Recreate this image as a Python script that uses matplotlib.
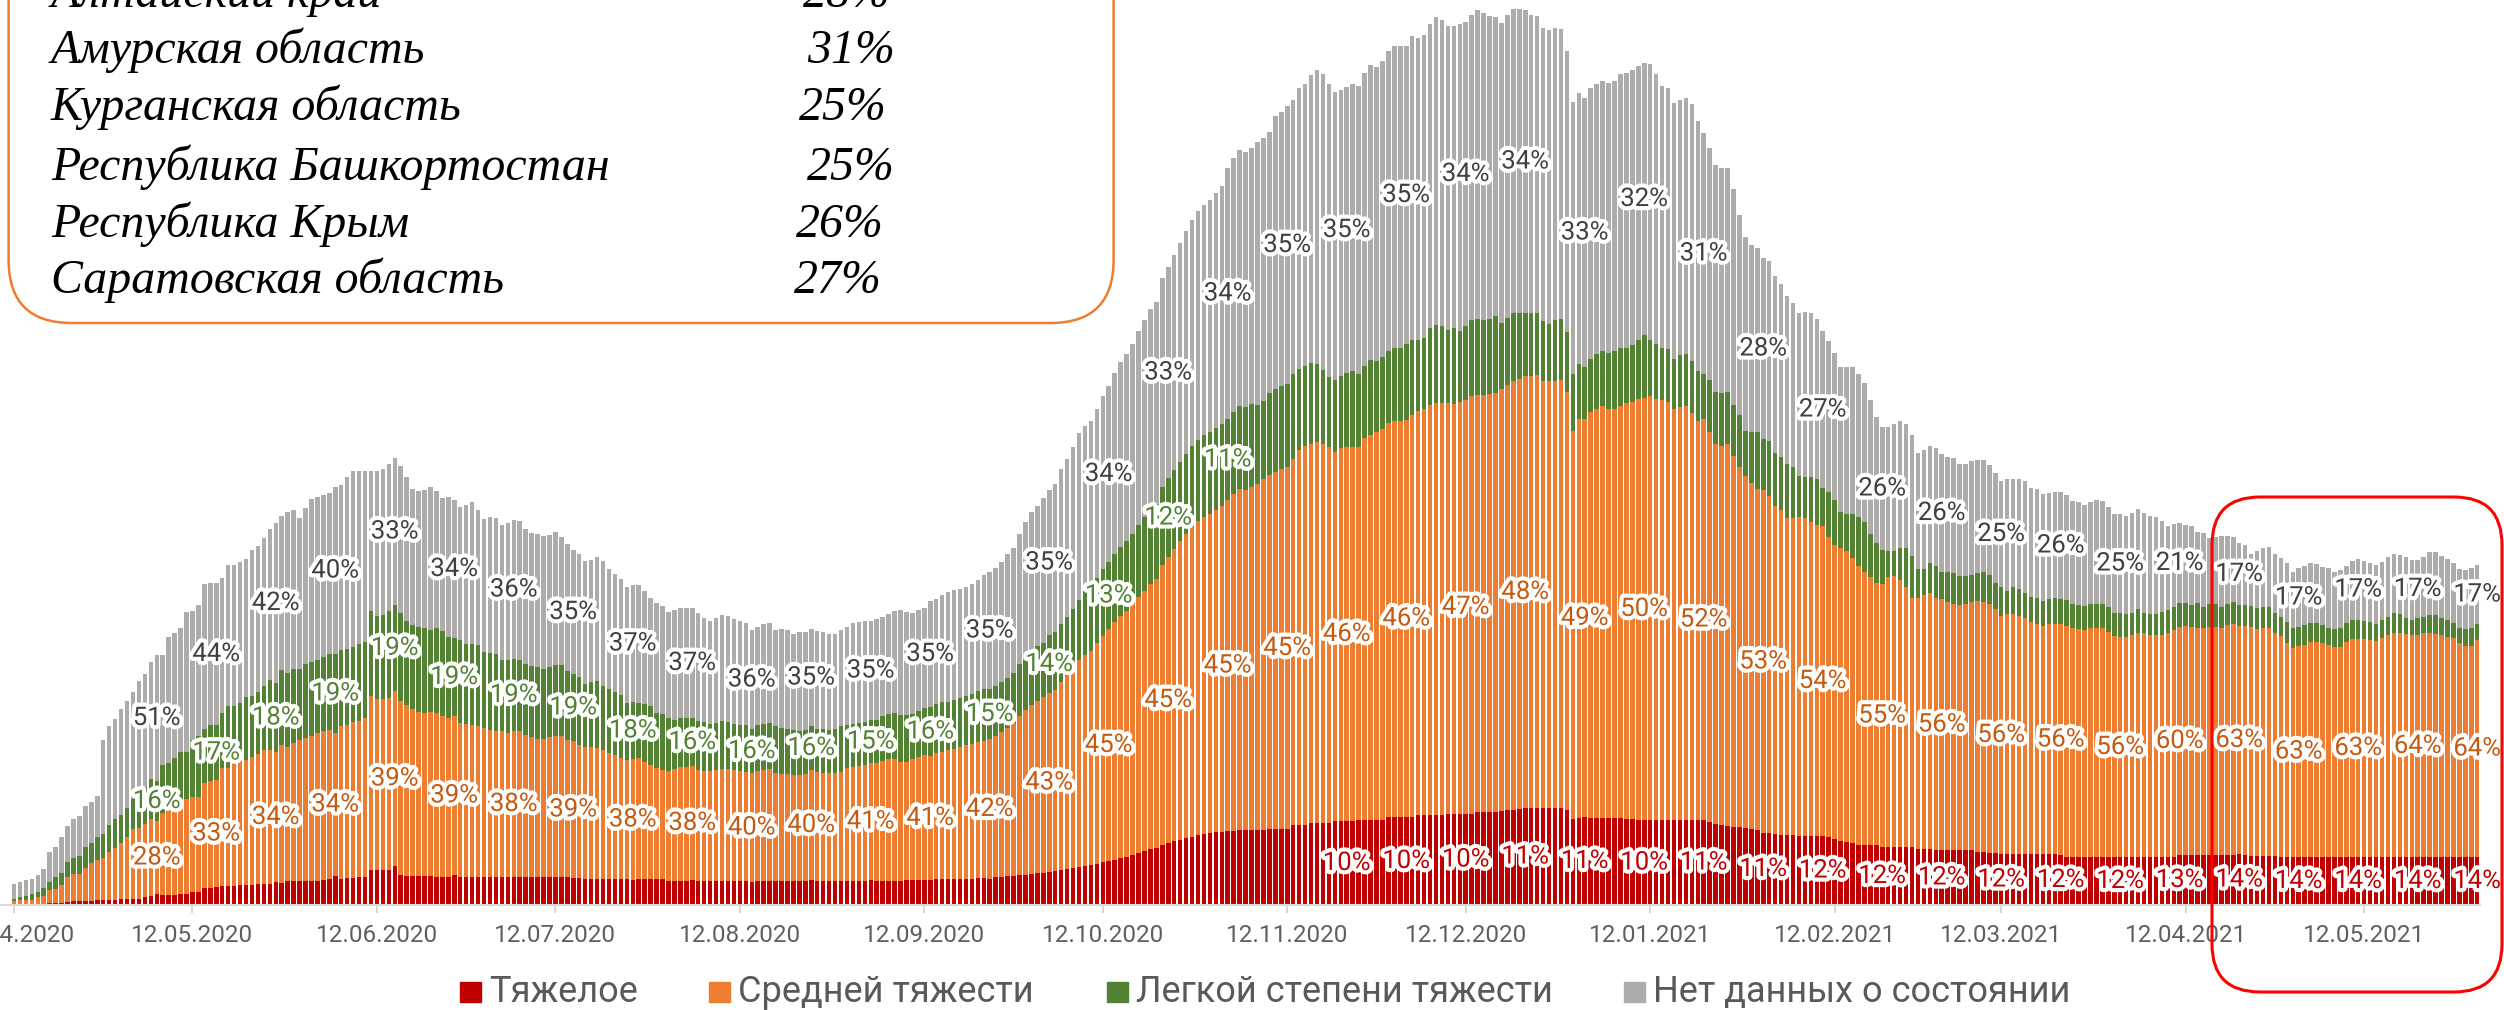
import numpy as np
import pandas as pd
import matplotlib
matplotlib.use("Agg")
import matplotlib.pyplot as plt
import matplotlib.patheffects as pe
from matplotlib.patches import FancyBboxPatch, Rectangle

plt.rcParams['font.family'] = ['Roboto', 'DejaVu Sans']

start = pd.Timestamp("2020-04-12")

# stacked levels per day: top of every layer
total = [21, 23, 25, 26, 30, 36, 53, 58, 68, 79,
         86, 89, 99, 103, 109, 165, 179, 186, 196, 204,
         213, 224, 231, 243, 250, 250, 268, 272, 277, 293,
         294, 300, 321, 322, 322, 327, 340, 340, 343, 346,
         355, 359, 367, 376, 382, 389, 393, 395, 387, 397,
         406, 408, 410, 412, 418, 420, 428, 434, 434, 434,
         434, 434, 436, 441, 447, 439, 428, 416, 414, 415,
         418, 414, 407, 408, 405, 398, 400, 403, 395, 386,
         388, 387, 380, 382, 385, 384, 376, 372, 371, 369,
         370, 373, 368, 361, 355, 351, 344, 345, 348, 344,
         336, 331, 326, 318, 320, 320, 314, 307, 302, 299,
         293, 295, 297, 297, 297, 292, 287, 284, 287, 290,
         289, 286, 284, 282, 275, 278, 281, 282, 275, 276,
         275, 271, 273, 273, 276, 274, 273, 271, 271, 275,
         278, 282, 283, 284, 284, 286, 288, 291, 294, 295,
         293, 292, 295, 297, 304, 306, 310, 313, 315, 316,
         318, 321, 325, 330, 333, 337, 343, 351, 357, 371,
         383, 393, 399, 407, 415, 421, 436, 446, 458, 472,
         479, 484, 496, 509, 519, 532, 543, 551, 561, 574,
         585, 596, 603, 627, 638, 650, 662, 674, 685, 694,
         700, 705, 712, 719, 737, 747, 755, 753, 757, 763,
         767, 773, 789, 793, 799, 805, 817, 821, 830, 835,
         831, 821, 813, 815, 818, 821, 819, 832, 840, 838,
         844, 854, 859, 859, 859, 869, 867, 870, 881, 888,
         885, 879, 879, 881, 883, 890, 895, 892, 889, 888,
         882, 890, 896, 896, 895, 890, 889, 877, 875, 877,
         876, 854, 803, 812, 807, 817, 821, 824, 822, 824,
         831, 832, 835, 839, 842, 841, 831, 819, 817, 802,
         805, 807, 801, 784, 772, 757, 740, 737, 737, 716,
         690, 668, 660, 657, 647, 644, 629, 621, 609, 602,
         592, 593, 592, 586, 574, 564, 552, 538, 538, 538,
         531, 522, 505, 488, 478, 478, 481, 484, 481, 470,
         452, 455, 459, 457, 451, 448, 447, 441, 441, 444,
         445, 445, 440, 432, 424, 426, 426, 426, 424, 417,
         416, 411, 412, 413, 413, 410, 404, 403, 400, 403,
         405, 404, 398, 391, 391, 389, 392, 396, 392, 389,
         388, 384, 379, 381, 382, 380, 379, 373, 372, 367,
         368, 369, 369, 368, 362, 360, 351, 354, 357, 358,
         351, 347, 342, 333, 337, 339, 342, 341, 338, 337,
         333, 335, 339, 344, 346, 344, 342, 340, 343, 348,
         351, 350, 348, 345, 345, 348, 353, 353, 349, 346,
         342, 336, 335, 337, 340]

upto_mild = [6, 8, 9, 11, 13, 17, 23, 28, 32, 43,
             47, 49, 58, 62, 68, 71, 80, 86, 90, 97,
             106, 109, 118, 126, 124, 140, 142, 147, 153, 153,
             165, 169, 176, 180, 180, 192, 199, 199, 202, 208,
             209, 213, 219, 225, 222, 235, 232, 236, 236, 241,
             243, 245, 248, 251, 251, 255, 256, 258, 261, 263,
             294, 289, 290, 294, 300, 292, 284, 280, 278, 277,
             275, 277, 274, 268, 267, 265, 261, 261, 260, 253,
             252, 251, 245, 245, 246, 245, 241, 239, 238, 236,
             238, 240, 240, 234, 231, 228, 221, 223, 224, 219,
             216, 213, 210, 202, 203, 202, 201, 199, 192, 191,
             187, 185, 187, 187, 187, 184, 183, 181, 182, 184,
             183, 181, 180, 180, 176, 180, 181, 182, 179, 177,
             176, 175, 174, 175, 179, 176, 176, 175, 176, 179,
             180, 181, 182, 183, 185, 185, 189, 191, 192, 190,
             190, 191, 194, 197, 198, 201, 203, 203, 205, 207,
             209, 211, 214, 216, 216, 219, 223, 227, 232, 241,
             245, 252, 259, 262, 270, 273, 281, 288, 296, 305,
             314, 318, 327, 336, 343, 351, 358, 364, 371, 380,
             388, 396, 401, 418, 427, 435, 443, 451, 459, 465,
             470, 473, 477, 481, 486, 493, 499, 498, 501, 500,
             504, 512, 516, 519, 521, 531, 536, 539, 542, 541,
             535, 528, 525, 529, 532, 534, 531, 539, 545, 544,
             548, 554, 557, 557, 561, 565, 565, 567, 577, 580,
             579, 575, 577, 574, 579, 585, 586, 585, 586, 589,
             582, 587, 592, 592, 592, 592, 592, 584, 581, 585,
             586, 573, 531, 541, 538, 546, 551, 554, 552, 554,
             557, 557, 560, 565, 570, 565, 561, 557, 556, 546,
             550, 551, 544, 534, 531, 525, 513, 512, 513, 500,
             490, 474, 473, 473, 466, 464, 452, 448, 441, 438,
             429, 428, 428, 426, 417, 413, 405, 393, 391, 391,
             388, 383, 371, 362, 355, 354, 354, 357, 357, 349,
             336, 336, 342, 339, 333, 333, 332, 329, 329, 330,
             332, 333, 330, 322, 318, 314, 318, 316, 312, 308,
             307, 304, 306, 307, 306, 305, 301, 300, 299, 301,
             301, 301, 298, 292, 292, 291, 292, 296, 292, 291,
             291, 293, 295, 298, 302, 302, 300, 302, 298, 301,
             301, 298, 301, 303, 300, 300, 299, 297, 298, 298,
             292, 288, 283, 277, 278, 280, 282, 282, 280, 277,
             276, 277, 282, 285, 285, 284, 283, 281, 285, 288,
             292, 291, 287, 285, 287, 288, 290, 290, 287, 285,
             282, 277, 276, 277, 281]

upto_moderate = [4, 5, 5, 5, 8, 9, 15, 16, 20, 28,
                 31, 31, 37, 42, 45, 47, 53, 57, 62, 68,
                 76, 77, 81, 86, 84, 92, 96, 100, 103, 106,
                 108, 108, 122, 124, 125, 137, 137, 143, 143, 145,
                 148, 151, 155, 155, 153, 160, 158, 162, 165, 167,
                 169, 172, 174, 175, 172, 179, 180, 183, 184, 187,
                 209, 206, 206, 207, 214, 204, 200, 196, 193, 192,
                 193, 192, 189, 187, 189, 182, 181, 180, 179, 177,
                 175, 174, 174, 172, 174, 174, 170, 168, 166, 166,
                 168, 169, 169, 165, 164, 160, 158, 158, 157, 155,
                 152, 150, 147, 145, 146, 147, 143, 140, 137, 135,
                 134, 136, 138, 138, 139, 135, 134, 134, 135, 136,
                 136, 135, 134, 133, 132, 134, 135, 136, 132, 131,
                 131, 130, 130, 131, 135, 133, 132, 132, 132, 133,
                 137, 138, 139, 140, 142, 142, 144, 146, 146, 143,
                 143, 146, 148, 150, 149, 152, 153, 155, 156, 158,
                 160, 161, 163, 164, 166, 169, 173, 177, 181, 189,
                 195, 200, 204, 208, 212, 215, 223, 229, 236, 245,
                 250, 254, 262, 269, 276, 283, 289, 294, 301, 308,
                 314, 321, 326, 340, 348, 356, 364, 371, 378, 384,
                 388, 391, 395, 399, 405, 411, 416, 415, 418, 421,
                 426, 430, 433, 436, 438, 446, 455, 459, 461, 463,
                 461, 458, 453, 457, 458, 458, 458, 467, 470, 473,
                 476, 482, 484, 484, 485, 490, 494, 496, 500, 502,
                 502, 502, 501, 503, 505, 509, 510, 510, 511, 512,
                 516, 520, 524, 526, 529, 529, 530, 524, 524, 524,
                 525, 513, 474, 486, 486, 493, 496, 499, 496, 496,
                 499, 502, 503, 506, 507, 509, 506, 505, 503, 496,
                 498, 499, 492, 484, 486, 473, 461, 459, 461, 449,
                 438, 429, 422, 416, 415, 409, 399, 395, 387, 387,
                 388, 387, 383, 380, 379, 368, 360, 357, 354, 347,
                 339, 333, 328, 322, 321, 328, 329, 325, 318, 307,
                 307, 310, 312, 307, 306, 303, 301, 300, 301, 303,
                 304, 303, 301, 296, 289, 291, 291, 289, 287, 283,
                 281, 279, 281, 281, 281, 279, 277, 276, 275, 277,
                 277, 277, 273, 269, 268, 268, 270, 272, 272, 270,
                 270, 270, 272, 275, 278, 279, 278, 277, 277, 278,
                 278, 277, 280, 281, 279, 279, 278, 276, 277, 277,
                 272, 269, 262, 257, 259, 260, 263, 263, 262, 260,
                 258, 258, 263, 266, 266, 266, 265, 264, 267, 270,
                 272, 272, 271, 270, 270, 272, 272, 271, 270, 268,
                 267, 262, 259, 259, 265]

severe = [1, 1, 1, 1, 1, 1, 2, 2, 2, 3,
          4, 4, 4, 4, 5, 5, 5, 5, 6, 6,
          6, 6, 8, 9, 11, 10, 10, 10, 11, 11,
          13, 13, 17, 17, 18, 19, 19, 19, 20, 20,
          20, 21, 21, 21, 23, 22, 24, 24, 24, 24,
          24, 24, 25, 26, 29, 26, 27, 27, 28, 28,
          35, 35, 35, 35, 39, 30, 29, 29, 29, 29,
          29, 28, 28, 28, 30, 28, 28, 28, 28, 28,
          28, 28, 28, 28, 28, 28, 28, 28, 28, 28,
          28, 28, 28, 28, 27, 27, 26, 26, 26, 26,
          26, 26, 26, 26, 25, 26, 26, 26, 26, 26,
          24, 24, 24, 24, 25, 24, 24, 24, 24, 24,
          24, 24, 24, 24, 23, 24, 24, 24, 24, 24,
          24, 24, 24, 24, 25, 24, 24, 24, 24, 24,
          24, 24, 24, 24, 25, 24, 24, 24, 24, 24,
          25, 25, 25, 25, 25, 26, 26, 26, 26, 26,
          26, 26, 27, 27, 26, 28, 28, 29, 29, 30,
          30, 31, 32, 32, 33, 34, 35, 36, 37, 38,
          39, 40, 41, 43, 44, 45, 47, 48, 50, 52,
          54, 56, 57, 60, 62, 64, 65, 67, 68, 70,
          71, 72, 73, 73, 74, 74, 75, 75, 75, 75,
          75, 76, 76, 76, 76, 80, 80, 80, 82, 82,
          82, 82, 84, 84, 84, 84, 85, 85, 85, 85,
          85, 88, 88, 88, 88, 88, 90, 90, 90, 90,
          90, 91, 91, 91, 91, 91, 93, 93, 93, 93,
          94, 95, 95, 96, 97, 97, 97, 97, 97, 97,
          97, 95, 86, 87, 88, 87, 87, 87, 87, 87,
          87, 86, 86, 85, 85, 85, 85, 85, 85, 85,
          85, 85, 85, 85, 85, 83, 81, 80, 79, 78,
          78, 77, 76, 75, 72, 72, 71, 70, 70, 70,
          69, 69, 69, 69, 69, 68, 66, 64, 63, 62,
          60, 60, 60, 60, 58, 58, 58, 58, 58, 58,
          56, 56, 56, 55, 55, 55, 55, 55, 55, 55,
          53, 53, 52, 52, 51, 51, 51, 51, 51, 51,
          51, 51, 51, 51, 50, 48, 48, 48, 48, 48,
          48, 48, 48, 48, 48, 48, 48, 48, 48, 48,
          48, 48, 48, 48, 50, 50, 50, 50, 50, 50,
          50, 50, 50, 50, 51, 50, 49, 49, 49, 49,
          49, 48, 48, 48, 48, 48, 48, 48, 48, 48,
          48, 48, 48, 48, 48, 48, 48, 48, 48, 48,
          48, 48, 48, 48, 48, 48, 48, 48, 48, 48,
          48, 48, 48, 48, 48]

# percentage labels, one every 10 days starting at day 4 (None = not shown)
label_days = list(range(4, 415, 10))
gray_labels = [None, None, 51, 44, 42, 40, 33, 34, 36, 35, 37, 37, 36, 35, 35, 35, 35, 35, 34, 33, 34,
               35, 35, 35, 34, 34, 33, 32, 31, 28, 27, 26, 26, 25, 26, 25, 21, 17, 17, 17, 17, 17]
green_labels = [None, None, 16, 17, 18, 19, 19, 19, 19, 19, 18, 16, 16, 16, 15, 16, 15, 14, 13, 12, 11] + [None] * 21
orange_labels = [None, None, 28, 33, 34, 34, 39, 39, 38, 39, 38, 38, 40, 40, 41, 41, 42, 43, 45, 45, 45,
                 45, 46, 46, 47, 48, 49, 50, 52, 53, 54, 55, 56, 56, 56, 56, 60, 63, 63, 63, 64, 64]
red_labels = [None] * 22 + [10, 10, 10, 11, 11, 10, 11, 11, 12, 12, 12, 12, 12, 12, 13, 14, 14, 14, 14, 14]

tick_labels = ["12.04.2020", "12.05.2020", "12.06.2020", "12.07.2020", "12.08.2020", "12.09.2020",
               "12.10.2020", "12.11.2020", "12.12.2020", "12.01.2021", "12.02.2021", "12.03.2021",
               "12.04.2021", "12.05.2021"]

series_names = ["Тяжелое", "Средней тяжести", "Легкой степени тяжести", "Нет данных о состоянии"]
colors = ["#C00000", "#ED7D31", "#548235", "#AEABAB"]
label_colors = ["#C00000", "#C55A11", "#548235", "#404040"]

regions = ["Алтайский край", "Амурская область", "Курганская область",
           "Республика Башкортостан", "Республика Крым", "Саратовская область"]
region_share = ["28%", "31%", "25%", "25%", "26%", "27%"]

W, H = 2504, 1010
fig = plt.figure(figsize=(W / 100, H / 100), dpi=100)
ax = fig.add_axes([0, 105 / H, 1, 905 / H])

tot = np.array(total)
g = np.array(upto_mild)
o = np.array(upto_moderate)
r = np.array(severe)
segs = [r, o - r, g - o, tot - g]
bottoms = [np.zeros_like(r), r, o, g]
x = np.arange(len(tot))

for seg, bot, c in zip(segs, bottoms, colors):
    ax.bar(x, seg, bottom=bot, width=0.76, color=c, linewidth=0)

halo = [pe.withStroke(linewidth=6, foreground="white")]
for lbls, seg, bot, lc in zip([red_labels, orange_labels, green_labels, gray_labels], segs, bottoms, label_colors):
    for d, v in zip(label_days, lbls):
        if v is None:
            continue
        ax.text(d, bot[d] + seg[d] / 2, f"{v}%", ha="center", va="center",
                fontsize=18.5, color=lc, path_effects=halo, zorder=5)

ax.set_xlim(-2.35, 418.5)
ax.set_ylim(0, 905)
ax.set_yticks([])
for s in ["top", "left", "right"]:
    ax.spines[s].set_visible(False)
ax.spines["bottom"].set_color("#d9d9d9")
ax.spines["bottom"].set_linewidth(1.5)
ax.spines["bottom"].set_bounds(-2.35, 414.5)

tick_pos = (pd.to_datetime(tick_labels, format="%d.%m.%Y") - start).days
ax.set_xticks(tick_pos, tick_labels)
ax.tick_params(axis="x", length=6, width=1.2, color="#d0d0d0", pad=8,
               labelsize=17.5, labelcolor="#5f5f5f")
ax.set_facecolor("white")

# overlay in pixel coordinates for the annotations
ov = fig.add_axes([0, 0, 1, 1], facecolor="none")
ov.set_xlim(0, W)
ov.set_ylim(H, 0)
ov.axis("off")

ov.add_patch(FancyBboxPatch((8.6, -150), 1105, 473, boxstyle="round,pad=0,rounding_size=63",
                            fc="white", ec="#ED7D31", lw=1.8))
baselines = [7, 63, 120, 180, 237, 293]
share_x = [803, 807, 799, 807, 796, 794]
for name, share, yb, sx in zip(regions, region_share, baselines, share_x):
    ov.text(51, yb, name, va="baseline", ha="left", fontsize=34.5, style="italic",
            family="Liberation Serif", color="black")
    ov.text(sx, yb, share, va="baseline", ha="left", fontsize=34.5, style="italic",
            family="Liberation Serif", color="black")

ov.add_patch(FancyBboxPatch((2212, 497), 290, 495, boxstyle="round,pad=0,rounding_size=48",
                            fc="none", ec="#ff0000", lw=2.2))

legend_x = [460, 709, 1107, 1624]
for lx, name, c in zip(legend_x, series_names, colors):
    ov.add_patch(Rectangle((lx, 982), 21, 20, color=c))
    ov.text(lx + 29, 992, name, va="center", ha="left", fontsize=26, color="#595959")

fig.savefig("out.png", dpi=100)
